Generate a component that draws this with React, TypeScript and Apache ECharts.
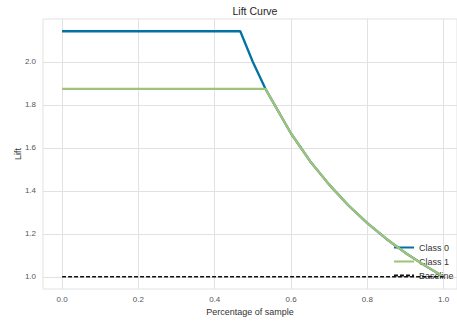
import React, { useEffect, useRef } from "react";
import * as echarts from "echarts";

const class0X = [0, 0.467, 0.5, 0.533, 0.6, 0.65, 0.7, 0.75, 0.8, 0.85, 0.9, 0.95, 1.0];
const class0Y = [2.143, 2.143, 2.0, 1.875, 1.667, 1.538, 1.429, 1.333, 1.25, 1.176, 1.111, 1.053, 1.0];
const class1X = [0, 0.533, 0.6, 0.65, 0.7, 0.75, 0.8, 0.85, 0.9, 0.95, 1.0];
const class1Y = [1.875, 1.875, 1.667, 1.538, 1.429, 1.333, 1.25, 1.176, 1.111, 1.053, 1.0];
const baselineX = [0, 1];
const baselineY = [1, 1];
const xTicks = [0, 0.2, 0.4, 0.6, 0.8, 1.0];
const yTicks = [1.0, 1.2, 1.4, 1.6, 1.8, 2.0];
const seriesNames = ["Class 0", "Class 1", "Baseline"];

const FONT = "'Liberation Sans', Arial, sans-serif";

function pairs(xs: number[], ys: number[]) {
  return xs.map((x, i) => [x, ys[i]]);
}

export default function App() {
  const ref = useRef<HTMLDivElement>(null);
  useEffect(() => {
    if (!ref.current) return;
    const chart = echarts.init(ref.current, undefined, { renderer: "svg" });
    const grid = "#e2e2e2";
    chart.setOption({
      animation: false,
      backgroundColor: "#ffffff",
      title: {
        text: "Lift Curve",
        left: 250,
        textAlign: "center",
        top: 0,
        textStyle: { fontFamily: FONT, fontSize: 10.5, fontWeight: "normal", color: "#262626" },
      },
      grid: {
        left: 43,
        top: 19,
        right: 0,
        bottom: 33,
        show: true,
        borderColor: grid,
        borderWidth: 1,
        containLabel: false,
        outerBoundsMode: "none",
      },
      legend: {
        orient: "vertical",
        left: 393,
        top: 242,
        padding: 0,
        itemWidth: 20,
        itemHeight: 10,
        itemGap: 3,
        data: seriesNames,
        itemStyle: { opacity: 0 },
        textStyle: { fontFamily: FONT, fontSize: 9, color: "#333", lineHeight: 11 },
      },
      xAxis: {
        type: "value",
        min: -0.05,
        max: 1.035,
        name: "Percentage of sample",
        nameLocation: "middle",
        nameGap: 18,
        nameMoveOverlap: false,
        nameTextStyle: { fontFamily: FONT, fontSize: 9, color: "#333" },
        axisLine: { show: false },
        axisTick: { show: false, customValues: xTicks },
        axisLabel: {
          customValues: xTicks,
          margin: 6,
          fontFamily: FONT,
          fontSize: 8,
          color: "#555",
          formatter: (v: number) => v.toFixed(1),
        },
        splitLine: { show: true, lineStyle: { color: grid, width: 1 } },
      },
      yAxis: {
        type: "value",
        min: 0.943,
        max: 2.2,
        name: "Lift",
        nameLocation: "middle",
        nameGap: 21,
        nameMoveOverlap: false,
        nameTextStyle: { fontFamily: FONT, fontSize: 9, color: "#333" },
        axisLine: { show: false },
        axisTick: { show: false, customValues: yTicks },
        axisLabel: {
          customValues: yTicks,
          margin: 7,
          fontFamily: FONT,
          fontSize: 8,
          color: "#555",
          formatter: (v: number) => v.toFixed(1),
        },
        splitLine: { show: true, lineStyle: { color: grid, width: 1 } },
      },
      series: [
        {
          name: seriesNames[0],
          type: "line",
          data: pairs(class0X, class0Y),
          symbol: "none",
          lineStyle: { color: "#0272a2", width: 2.3 },
          itemStyle: { color: "#0272a2" },
          z: 3,
        },
        {
          name: seriesNames[1],
          type: "line",
          data: pairs(class1X, class1Y),
          symbol: "none",
          lineStyle: { color: "#9fc377", width: 2.3 },
          itemStyle: { color: "#9fc377" },
          z: 4,
        },
        {
          name: seriesNames[2],
          type: "line",
          data: pairs(baselineX, baselineY),
          symbol: "none",
          lineStyle: { color: "#111", width: 1.3, type: [4, 2] },
          itemStyle: { color: "#111" },
          z: 5,
        },
      ],
    });
    return () => chart.dispose();
  }, []);
  return (
    <div
      ref={ref}
      style={{ position: "fixed", left: 0, top: 0, width: 457, height: 322, background: "#fff" }}
    />
  );
}
